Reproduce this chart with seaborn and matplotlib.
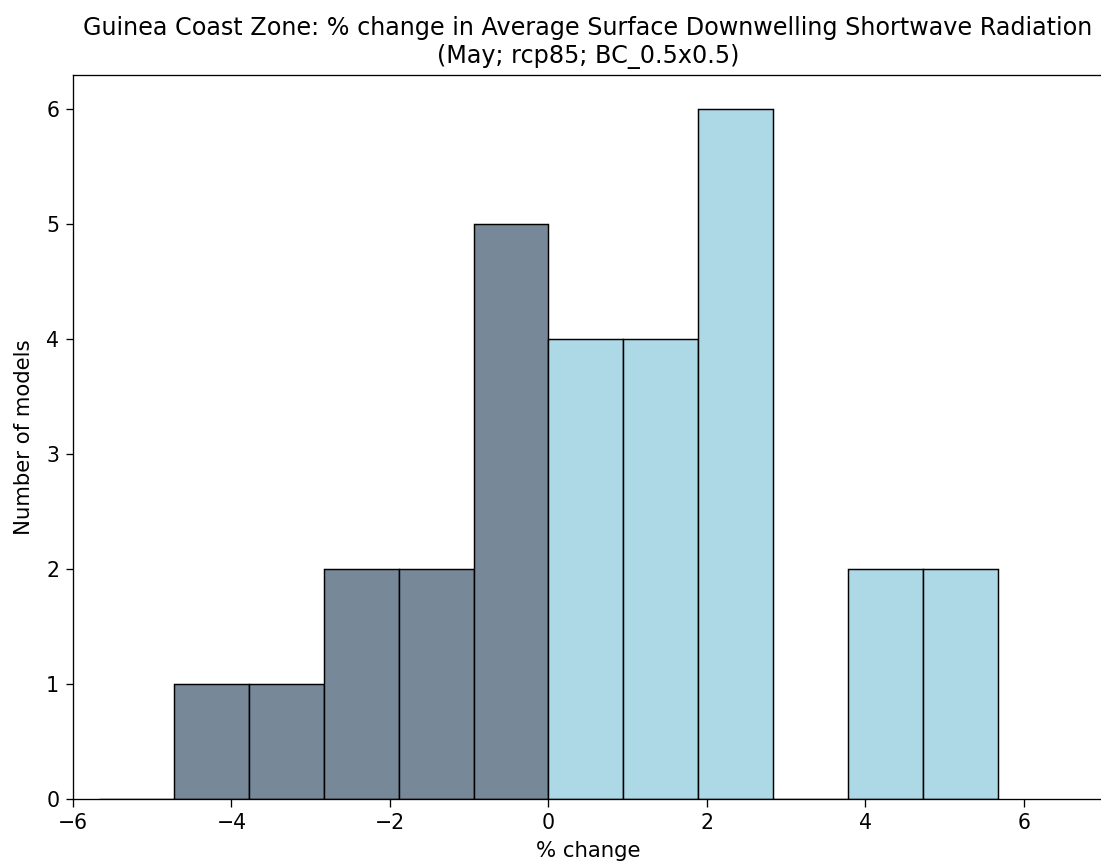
import numpy as np
import pandas as pd
import seaborn as sns
import matplotlib
matplotlib.use("Agg")
import matplotlib.pyplot as plt

# Histogram counts (number of models per % change bin)
max_abs_change = 5.67
neg_counts = [0, 1, 1, 2, 2, 5]   # bins from -5.67 up to 0
pos_counts = [4, 4, 6, 0, 2, 2]   # bins from 0 up to 5.67

title = ("Guinea Coast Zone: % change in Average Surface Downwelling Shortwave Radiation\n"
         "(May; rcp85; BC_0.5x0.5)")
x_label = "% change"
y_label = "Number of models"

# symmetric bins around zero
neg_edges = np.linspace(-max_abs_change, 0, len(neg_counts) + 1)
pos_edges = np.linspace(0, max_abs_change, len(pos_counts) + 1)

neg_df = pd.DataFrame({"change": (neg_edges[:-1] + neg_edges[1:]) / 2, "n": neg_counts})
pos_df = pd.DataFrame({"change": (pos_edges[:-1] + pos_edges[1:]) / 2, "n": pos_counts})

fig = plt.figure(figsize=(11.01, 8.65), dpi=100)
ax = fig.add_axes([73 / 1101, 66 / 865, 1030 / 1101, 724 / 865])

sns.histplot(data=neg_df, x="change", weights="n", bins=list(neg_edges), color="lightslategray",
             edgecolor="black", linewidth=1.05, alpha=1, ax=ax)
sns.histplot(data=pos_df, x="change", weights="n", bins=list(pos_edges), color="lightblue",
             edgecolor="black", linewidth=1.05, alpha=1, ax=ax)

ax.set_xlim(-6, 7)
ax.set_ylim(0, 6.3)
ax.set_xlabel(x_label, fontsize=15.3, labelpad=6)
ax.set_ylabel(y_label, fontsize=15.3, labelpad=8.5)
ax.set_title(title, fontsize=17.2, pad=8.5)
ax.tick_params(labelsize=14.8, length=5.4, width=0.95, pad=4.5)
for s in ax.spines.values():
    s.set_linewidth(0.95)

fig.savefig("out.png", dpi=100)
